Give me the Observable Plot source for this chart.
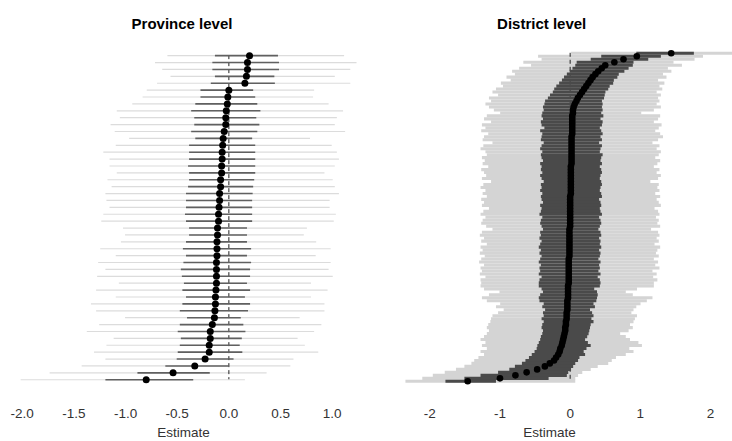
<!DOCTYPE html>
<html><head><meta charset="utf-8">
<script src="https://cdn.jsdelivr.net/npm/d3@7"></script>
<script src="https://cdn.jsdelivr.net/npm/@observablehq/plot@0.6"></script>
<style>
body{margin:0;background:#fff;font-family:"Liberation Sans",Arial,sans-serif;}
#wrap{position:relative;width:732px;height:441px;overflow:hidden;}
.title{position:absolute;top:15.5px;transform:translateX(-50%);font:bold 15px/15px "Liberation Sans",Arial,sans-serif;color:#000;white-space:nowrap;}
#left,#right{position:absolute;top:40px;}
#left{left:0}#right{left:366px}
svg{overflow:visible}
</style></head>
<body>
<div id="wrap">
  <div class="title" style="left:182px">Province level</div>
  <div class="title" style="left:541.7px">District level</div>
  <div id="left"></div>
  <div id="right"></div>
</div>
<script>
// ---- Province level (48 provinces, sorted top to bottom) ----
const provEst = [0.20,0.18,0.18,0.17,0.155,0.00,-0.01,-0.015,-0.025,-0.03,-0.03,-0.045,-0.055,-0.06,-0.065,-0.065,-0.07,-0.07,-0.08,-0.08,-0.09,-0.09,-0.095,-0.10,-0.10,-0.11,-0.11,-0.115,-0.115,-0.115,-0.12,-0.12,-0.12,-0.12,-0.125,-0.13,-0.13,-0.135,-0.14,-0.16,-0.18,-0.18,-0.19,-0.19,-0.23,-0.33,-0.54,-0.80];
const provInnerLo = [-0.13,-0.155,-0.155,-0.13,-0.17,-0.27,-0.27,-0.32,-0.36,-0.33,-0.33,-0.36,-0.32,-0.38,-0.38,-0.38,-0.39,-0.38,-0.38,-0.39,-0.41,-0.41,-0.41,-0.42,-0.41,-0.38,-0.38,-0.41,-0.44,-0.41,-0.435,-0.46,-0.45,-0.43,-0.445,-0.41,-0.445,-0.47,-0.40,-0.47,-0.49,-0.46,-0.47,-0.49,-0.50,-0.61,-0.88,-1.19];
const provInnerHi = [0.48,0.49,0.49,0.445,0.45,0.24,0.26,0.28,0.31,0.27,0.30,0.28,0.23,0.26,0.26,0.26,0.26,0.26,0.25,0.24,0.235,0.23,0.23,0.23,0.23,0.18,0.18,0.18,0.22,0.18,0.22,0.21,0.21,0.18,0.21,0.16,0.21,0.19,0.12,0.145,0.165,0.13,0.11,0.135,0.05,0.0,-0.18,-0.34];
const provOuterLo = [-0.59,-0.71,-0.64,-0.56,-0.69,-0.79,-0.83,-0.93,-1.08,-1.05,-1.14,-1.10,-0.96,-1.09,-1.21,-1.15,-1.15,-1.08,-1.17,-1.13,-1.19,-1.18,-1.15,-1.21,-1.23,-1.02,-1.00,-1.04,-1.24,-1.09,-1.26,-1.19,-1.27,-1.06,-1.28,-1.09,-1.33,-1.28,-1.00,-1.25,-1.37,-1.11,-1.18,-1.30,-1.19,-1.42,-1.73,-2.01];
const provOuterHi = [1.12,1.24,1.18,1.03,1.18,0.83,0.82,0.97,1.11,1.05,1.03,1.13,0.79,1.00,1.05,1.07,1.03,0.93,1.01,1.03,1.07,0.98,0.98,1.04,1.02,0.76,0.73,0.85,0.99,0.845,0.99,0.97,1.01,0.80,0.96,0.80,0.93,0.93,0.69,0.90,0.83,0.67,0.74,0.87,0.63,0.60,0.37,0.16];
const provTicks = [-2.0,-1.5,-1.0,-0.5,0.0,0.5,1.0];

// ---- District level (read roughly every 3 px row, sorted top to bottom) ----
const distEst = [1.44,0.95,0.76,0.63,0.50,0.45,0.40,0.36,0.32,0.29,0.26,0.23,0.20,0.17,0.14,0.11,0.09,0.065,0.05,
0.04,0.04,0.03,0.03,0.03,0.03,0.03,0.03,0.03,0.02,0.02,0.02,
0.02,0.02,0.02,0.02,0.02,0.02,0.02,0.01,0.01,0.01,0.01,0.01,
0.01,0.01,0.01,0.01,0.01,0.00,0.00,0.00,0.00,0.00,0.00,0.00,
0.00,0.00,0.00,0.00,-0.01,-0.01,-0.01,-0.01,-0.01,-0.01,-0.01,-0.01,
-0.01,-0.01,-0.02,-0.02,-0.02,-0.02,-0.02,-0.02,-0.02,-0.02,-0.02,
-0.03,-0.03,-0.03,-0.03,-0.03,-0.04,-0.04,-0.04,-0.04,-0.05,-0.05,-0.05,
-0.06,-0.06,-0.07,-0.07,-0.08,-0.09,-0.10,-0.11,-0.12,-0.14,-0.15,-0.17,
-0.20,-0.23,-0.29,-0.36,-0.47,-0.62,-0.78,-1.00,-1.46];
const distInnerLo = [0.95,0.45,0.30,0.10,0.08,0.04,0.00,-0.04,-0.08,-0.11,-0.15,-0.19,-0.22,-0.24,-0.28,-0.31,-0.35,-0.36,-0.38,
-0.37,-0.39,-0.40,-0.38,-0.41,-0.40,-0.36,-0.42,-0.39,-0.40,-0.41,-0.37,
-0.40,-0.42,-0.39,-0.41,-0.40,-0.38,-0.42,-0.40,-0.41,-0.39,-0.42,-0.40,
-0.37,-0.41,-0.40,-0.42,-0.39,-0.41,-0.40,-0.38,-0.42,-0.40,-0.41,-0.43,
-0.39,-0.41,-0.42,-0.40,-0.38,-0.42,-0.41,-0.43,-0.40,-0.42,-0.44,-0.41,
-0.43,-0.40,-0.42,-0.44,-0.41,-0.43,-0.42,-0.44,-0.40,-0.43,-0.44,
-0.44,-0.40,-0.38,-0.42,-0.44,-0.43,-0.37,-0.39,-0.35,-0.38,-0.37,-0.40,
-0.37,-0.39,-0.40,-0.38,-0.39,-0.41,-0.42,-0.44,-0.46,-0.47,-0.50,-0.54,
-0.58,-0.63,-0.68,-0.78,-0.86,-1.02,-1.27,-1.50,-1.77];
const distInnerHi = [1.77,1.30,1.12,0.91,0.90,0.84,0.78,0.70,0.68,0.63,0.62,0.57,0.55,0.51,0.50,0.49,0.46,0.47,0.46,
0.47,0.45,0.48,0.44,0.47,0.46,0.43,0.45,0.47,0.44,0.46,0.42,
0.46,0.44,0.43,0.47,0.45,0.44,0.46,0.43,0.45,0.46,0.44,0.43,
0.45,0.46,0.44,0.43,0.45,0.46,0.42,0.44,0.45,0.43,0.44,0.46,
0.42,0.44,0.45,0.43,0.41,0.44,0.45,0.42,0.44,0.43,0.45,0.42,
0.44,0.43,0.41,0.44,0.42,0.43,0.41,0.44,0.40,0.43,0.44,
0.43,0.35,0.39,0.40,0.39,0.38,0.34,0.36,0.29,0.32,0.34,0.31,
0.34,0.30,0.29,0.28,0.27,0.25,0.22,0.26,0.30,0.24,0.20,0.22,
0.14,0.12,0.08,0.05,0.02,-0.02,-0.04,-0.30,-1.05];
const distOuterLo = [0.02,-0.45,-0.40,-0.66,-0.55,-0.72,-0.82,-0.78,-0.90,-0.84,-0.98,-0.95,-1.05,-1.10,-1.02,-1.15,-1.12,-1.20,-1.15,
-1.08,-0.99,-1.18,-1.22,-1.12,-1.25,-1.20,-1.26,-1.16,-1.22,-1.24,-1.10,
-1.23,-1.27,-1.20,-1.18,-1.25,-1.21,-1.24,-1.16,-1.26,-1.22,-1.19,-1.25,
-1.12,-1.23,-1.27,-1.20,-1.24,-1.18,-1.26,-1.22,-1.25,-1.15,-1.23,-1.27,
-1.20,-1.24,-1.26,-1.19,-1.10,-1.25,-1.28,-1.22,-1.26,-1.18,-1.27,-1.24,
-1.28,-1.21,-1.26,-1.29,-1.22,-1.27,-1.25,-1.28,-1.20,-1.27,-1.26,
-1.27,-1.22,-1.00,-1.15,-1.25,-1.18,-0.99,-1.05,-0.94,-1.02,-1.10,-1.12,
-1.13,-1.16,-1.18,-1.15,-1.18,-1.22,-1.27,-1.20,-1.25,-1.18,-1.27,-1.22,
-1.30,-1.36,-1.40,-1.50,-1.62,-1.78,-1.95,-2.10,-2.34];
const distOuterHi = [2.32,1.90,1.78,1.48,1.60,1.40,1.45,1.33,1.38,1.26,1.35,1.28,1.32,1.24,1.30,1.26,1.28,1.24,1.30,
1.20,1.02,1.29,1.26,1.20,1.31,1.27,1.22,1.29,1.33,1.26,1.18,
1.28,1.24,1.30,1.27,1.22,1.29,1.25,1.20,1.28,1.24,1.30,1.26,
1.15,1.27,1.25,1.28,1.22,1.29,1.24,1.27,1.30,1.21,1.26,1.28,
1.23,1.27,1.25,1.29,1.16,1.26,1.28,1.24,1.27,1.21,1.29,1.25,
1.23,1.27,1.20,1.26,1.22,1.28,1.18,1.24,1.19,1.25,1.20,
1.20,0.96,0.80,0.90,1.18,1.10,1.01,0.95,0.91,0.88,0.96,0.93,
0.91,0.86,0.90,0.84,0.72,0.80,0.86,0.98,1.03,0.85,0.91,0.80,
0.66,0.60,0.55,0.40,0.30,0.18,0.12,0.08,0.08];
const distTicks = [-2,-1,0,1,2];

function rows(est, ilo, ihi, olo, ohi) {
  return est.map((e, i) => ({i, est: e, ilo: ilo[i], ihi: ihi[i], olo: olo[i], ohi: ohi[i]}));
}

function panel({data, ticks, fmt, xDomain, xRange, yRange, grayW, darkW, grayC, darkC, r}) {
  const idx = data.map(d => d.i);
  return Plot.plot({
    width: 366,
    height: 401,
    marginTop: 0,
    marginBottom: 35,
    marginLeft: 0,
    marginRight: 0,
    style: {fontFamily: '"Liberation Sans", Arial, sans-serif', background: "transparent"},
    x: {domain: xDomain, range: xRange},
    y: {type: "point", domain: idx, range: yRange, axis: null},
    marks: [
      Plot.ruleY(data, {y: "i", x1: "olo", x2: "ohi", stroke: grayC, strokeWidth: grayW}),
      Plot.ruleX([0], {y1: idx[0], y2: idx[idx.length - 1], stroke: "#222", strokeWidth: 1, strokeDasharray: "4,3"}),
      Plot.ruleY(data, {y: "i", x1: "ilo", x2: "ihi", stroke: darkC, strokeWidth: darkW}),
      Plot.dot(data, {y: "i", x: "est", r, fill: "#000", stroke: "none"}),
      Plot.axisX({ticks, tickFormat: fmt, tickSize: 0, tickPadding: 1.5, fontSize: 13.5, fill: "#333",
        label: "Estimate", labelAnchor: "center", labelArrow: "none", labelOffset: 30})
    ]
  });
}

const prov = rows(provEst, provInnerLo, provInnerHi, provOuterLo, provOuterHi);
const dist = rows(distEst, distInnerLo, distInnerHi, distOuterLo, distOuterHi);

document.getElementById("left").append(panel({
  data: prov, ticks: provTicks, fmt: d => d.toFixed(1),
  xDomain: [-2, 1], xRange: [21.7, 331.7], yRange: [11.7, 342.7],
  grayW: 1.2, darkW: 1.6, grayC: "#dcdcdc", darkC: "#606060", r: 3.5
}));
document.getElementById("right").append(panel({
  data: dist, ticks: distTicks, fmt: d => String(d),
  xDomain: [-2, 2], xRange: [63.3, 344], yRange: [11.3, 342.3],
  grayW: 3.1, darkW: 3.1, grayC: "#d4d4d4", darkC: "#4a4a4a", r: 3.3
}));
</script>
</body></html>
